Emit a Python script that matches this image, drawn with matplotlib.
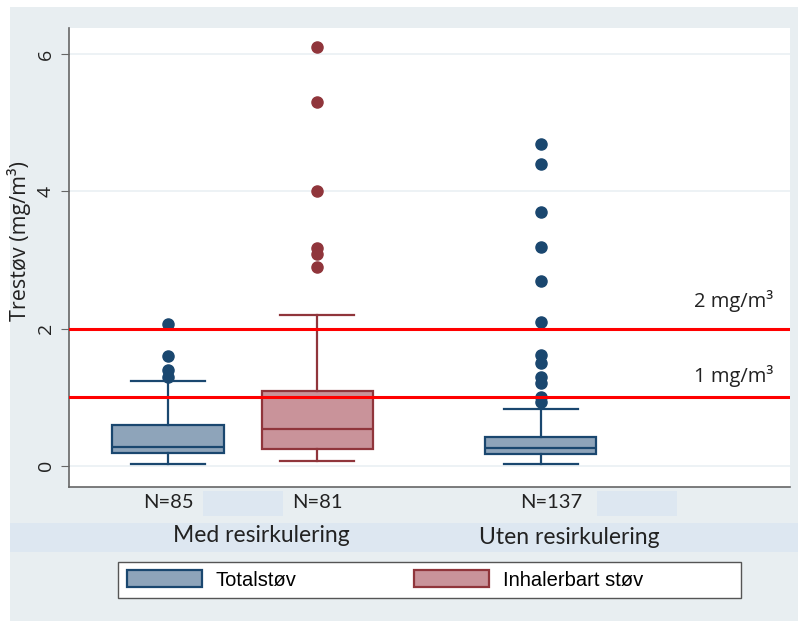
import matplotlib
matplotlib.use("Agg")
import matplotlib.pyplot as plt
from matplotlib.patches import Rectangle, Patch

# box statistics per series (mg/m3)
groups = ["Med resirkulering", "Uten resirkulering"]
series = ["Totalstøv", "Inhalerbart støv", "Totalstøv"]
n_labels = ["N=85", "N=81", "N=137"]
positions = [1, 2, 3.5]

whislo = [0.03, 0.07, 0.03]
q1 = [0.19, 0.25, 0.17]
med = [0.28, 0.54, 0.26]
q3 = [0.60, 1.09, 0.42]
whishi = [1.24, 2.20, 0.83]
fliers = [
    [1.30, 1.40, 1.60, 2.07],
    [2.90, 3.08, 3.17, 4.00, 5.30, 6.10],
    [0.93, 1.00, 1.21, 1.30, 1.50, 1.62, 2.10, 2.69, 3.19, 3.70, 4.40, 4.69],
]

limits = [2.0, 1.0]
limit_labels = ["2 mg/m³", "1 mg/m³"]

blue_edge, blue_fill = "#1a476f", "#8ea4ba"
red_edge, red_fill = "#90353b", "#c9939a"
edges = [blue_edge, red_edge, blue_edge]
fills = [blue_fill, red_fill, blue_fill]

bg = "#e8eef1"
band = "#dde7f1"

fig = plt.figure(figsize=(7.98, 6.21), dpi=100)
W, H = 798, 621

def fx(px):
    return px / W

def fy(py):
    return 1 - py / H

# outer background, label band and spacer blocks
fig.patches.append(Rectangle((fx(10), 0), 1, fy(7), transform=fig.transFigure,
                             facecolor=bg, edgecolor="none", zorder=-10))
fig.patches.append(Rectangle((fx(10), fy(552)), 1, (552 - 523) / H, transform=fig.transFigure,
                             facecolor=band, edgecolor="none", zorder=-9))
for x0, x1 in [(203, 283), (597, 677)]:
    fig.patches.append(Rectangle((fx(x0), fy(516)), (x1 - x0) / W, (516 - 491) / H,
                                 transform=fig.transFigure, facecolor=band,
                                 edgecolor="none", zorder=-9))
# legend frame
fig.patches.append(Rectangle((fx(118), fy(598)), fx(741) - fx(118), (598 - 562) / H,
                             transform=fig.transFigure, facecolor="white",
                             edgecolor="#555555", linewidth=1.0, zorder=-8))

ax = fig.add_axes([fx(69), fy(487), fx(790) - fx(69), fy(28) - fy(487)])
ax.set_facecolor("white")

stats = []
for i in range(3):
    stats.append(dict(med=med[i], q1=q1[i], q3=q3[i], whislo=whislo[i],
                      whishi=whishi[i], fliers=fliers[i]))

for i in range(3):
    c = edges[i]
    ax.bxp([stats[i]], positions=[positions[i]], widths=0.745, patch_artist=True,
           boxprops=dict(facecolor=fills[i], edgecolor=c, linewidth=1.6),
           medianprops=dict(color=c, linewidth=1.6),
           whiskerprops=dict(color=c, linewidth=1.6),
           capprops=dict(color=c, linewidth=1.6),
           capwidths=0.5,
           flierprops=dict(marker="o", markerfacecolor=c, markeredgecolor=c,
                           markersize=8),
           zorder=3)

for y in limits:
    ax.axhline(y, color="#ff0000", linewidth=2.2, zorder=4)
for y, lab in zip([2.40, 1.31], limit_labels):
    ax.text(5.06, y, lab, ha="right", va="center", fontsize=14.5,
            family="Open Sans", color="#222222")

ax.set_xlim(0.336, 5.17)
ax.set_ylim(-0.31, 6.38)
ax.set_yticks([0, 2, 4, 6])
ax.set_yticklabels(["0", "2", "4", "6"], rotation=90, va="center",
                   fontsize=14, family="Open Sans", color="#222222")
ax.yaxis.grid(True, color="#eaf0f3", linewidth=1.2, zorder=0)
ax.set_axisbelow(True)
ax.tick_params(axis="y", length=6, color="#666666", pad=4)
ax.set_xticks([])
for s in ["top", "right"]:
    ax.spines[s].set_visible(False)
for s in ["left", "bottom"]:
    ax.spines[s].set_color("#666666")
    ax.spines[s].set_linewidth(1.2)

ax.set_ylabel("Trestøv (mg/m³)", fontsize=15.5, family="Open Sans",
              color="#222222")
ax.yaxis.set_label_coords(-0.053, 0.535)

# N labels under each box
n_x = [1, 2, 3.57]
for p, lab in zip(n_x, n_labels):
    ax.text(p, -0.54, lab, ha="center", va="center",
            fontsize=14.5, family="Lato", color="#222222")

fig.text(fx(261), fy(535), groups[0], ha="center", va="center", fontsize=16.5,
         family="Lato", color="#222222")
fig.text(fx(569), fy(537), groups[1], ha="center", va="center", fontsize=16.5,
         family="Lato", color="#222222")

handles = [Patch(facecolor=blue_fill, edgecolor=blue_edge, linewidth=1.6, label="Totalstøv"),
           Patch(facecolor=red_fill, edgecolor=red_edge, linewidth=1.6, label="Inhalerbart støv")]
leg = fig.legend(handles=handles, loc="center left", ncol=2,
                 bbox_to_anchor=(fx(113), fy(580)), frameon=False,
                 prop=dict(family="Liberation Sans", size=14.5),
                 handlelength=3.7, handleheight=0.9, columnspacing=5.85,
                 borderpad=0.2, handletextpad=0.7)

fig.savefig("out.png", dpi=100, facecolor="white")
